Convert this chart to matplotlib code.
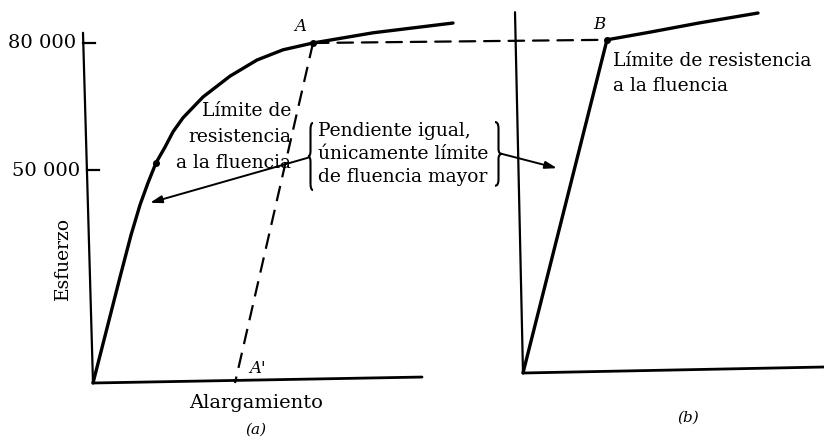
import matplotlib.pyplot as plt
from matplotlib.patches import ConnectionPatch, PathPatch
from matplotlib.path import Path

# curva (a): alargamiento (unidades arbitrarias) vs esfuerzo (psi), esquema
alarg_a = [0, 1.4, 2.7, 3.8, 4.7, 5.5, 6.3, 7.2, 8.0, 9.0, 11.0, 13.7, 16.4, 19.0, 22.0, 28.0, 36.0]
esf_a = [0, 12900, 24900, 34800, 41900, 47100, 51800, 55500, 59100, 62400, 67300, 72200, 76000, 78400,
         80000, 82400, 84700]
punto_A = (22.0, 80000)
punto_A_prima = (14.2, 0)
punto_fluencia_a = (6.3, 51800)

# curva (b)
alarg_b = [0, 8.4, 12.7, 17.7, 23.5]
esf_b = [0, 78400, 80200, 82400, 84700]
punto_B = (8.4, 78400)

# ejes dibujados a mano (el escaneo esta un poco inclinado)
eje_y_a = ([0, -1.0], [0, 82400])
eje_x_a = ([0, 32.9], [0, 1400])
eje_y_b = ([0, -0.8], [0, 84900])
eje_x_b = ([0, 30.1], [0, 1410])

yticks = [50000, 80000]
ytick_labels = ['50 000', '80 000']

W, H, DPI = 824, 442, 100
PX_E = 10.0          # px por unidad de alargamiento
PX_S = 0.00425       # px por psi

fig = plt.figure(figsize=(W / DPI, H / DPI), dpi=DPI)
fig.patch.set_facecolor('white')


def make_ax(ox, oy):
    ax = fig.add_axes([0, 0, 1, 1])
    ax.set_xlim(-ox / PX_E, (W - ox) / PX_E)
    ax.set_ylim(-(H - oy) / PX_S, oy / PX_S)
    ax.axis('off')
    ax.patch.set_alpha(0)
    return ax


def llave(ax, x_punta, x_brazo, y_arr, y_ab):
    # llave { o } hecha con curvas cuadraticas
    ym = (y_arr + y_ab) / 2
    h = y_arr - y_ab
    xm = (x_punta + x_brazo) / 2
    verts = [(x_brazo, y_arr), (xm, y_arr), (xm, y_arr - 0.1 * h),
             (xm, ym + 0.08 * h), (xm, ym), (x_punta, ym),
             (xm, ym), (xm, ym - 0.08 * h),
             (xm, y_ab + 0.1 * h), (xm, y_ab), (x_brazo, y_ab)]
    codes = [Path.MOVETO, Path.CURVE3, Path.CURVE3,
             Path.LINETO, Path.CURVE3, Path.CURVE3,
             Path.CURVE3, Path.CURVE3,
             Path.LINETO, Path.CURVE3, Path.CURVE3]
    ax.add_patch(PathPatch(Path(verts, codes), fill=False, lw=1.5, color='black'))


ax_a = make_ax(93, 383)
ax_b = make_ax(523, 373)

fuente = 'DejaVu Serif'
fs = 13.5
k = dict(color='black', solid_capstyle='round', solid_joinstyle='round')

# panel (a)
ax_a.plot(*eje_y_a, lw=1.6, **k)
ax_a.plot(*eje_x_a, lw=2.0, **k)
ax_a.plot(alarg_a, esf_a, lw=2.4, **k)
for t, lab in zip(yticks, ytick_labels):
    x0 = eje_y_a[0][1] * t / eje_y_a[1][1]
    ax_a.plot([x0, x0 + 1.2], [t, t], lw=1.6, color='black')
    ax_a.text(x0 - 0.7, t, lab, ha='right', va='center', fontsize=14, family=fuente)

ax_a.plot([punto_A[0], punto_A_prima[0]], [punto_A[1], punto_A_prima[1]],
          color='black', lw=1.6, dashes=(7, 4))
ax_a.plot(*punto_A, 'o', color='black', ms=4)
ax_a.plot(*punto_fluencia_a, 'o', color='black', ms=4)

ax_a.text(20.7, 83800, 'A', fontsize=12, style='italic', family=fuente, ha='center', va='center')
ax_a.text(16.5, 3500, "A'", fontsize=12, style='italic', family=fuente, ha='center', va='center')
ax_a.text(19.8, 57900, 'Límite de\nresistencia\na la fluencia', ha='right', va='center',
          multialignment='right', fontsize=fs, family=fuente, linespacing=1.55)
ax_a.text(-3.0, 29200, 'Esfuerzo', rotation=90, ha='center', va='center', fontsize=fs, family=fuente)
ax_a.text(16.3, -4700, 'Alargamiento', ha='center', va='center', fontsize=14, family=fuente)
ax_a.text(16.3, -11060, '(a)', ha='center', va='center', fontsize=11, style='italic', family=fuente)

# llaves y texto central
ax_a.text(22.5, 53800, 'Pendiente igual,\núnicamente límite\nde fluencia mayor', ha='left', va='center',
          fontsize=fs, family=fuente, linespacing=1.35)
llave(ax_a, 21.5, 22.0, 61200, 45400)
llave(ax_a, 40.9, 40.2, 61400, 46400)

flecha = dict(arrowstyle='-|>,head_length=0.7,head_width=0.22', color='black', lw=1.4,
              shrinkA=0, shrinkB=0)
ax_a.annotate('', xy=(5.7, 42400), xytext=(21.5, 53000), arrowprops=flecha)
ax_a.annotate('', xy=(3.4, 48200), xycoords=ax_b.transData,
              xytext=(40.9, 53900), textcoords=ax_a.transData, arrowprops=flecha)

# panel (b)
ax_b.plot(*eje_y_b, lw=1.6, **k)
ax_b.plot(*eje_x_b, lw=2.0, **k)
ax_b.plot(alarg_b, esf_b, lw=2.4, **k)
ax_b.plot(*punto_B, 'o', color='black', ms=4)
ax_b.text(7.6, 82100, 'B', fontsize=12, style='italic', family=fuente, ha='center', va='center')
ax_b.text(9.0, 70500, 'Límite de resistencia\na la fluencia', ha='left', va='center',
          fontsize=fs, family=fuente, linespacing=1.55)
ax_b.text(16.5, -10600, '(b)', ha='center', va='center', fontsize=11, style='italic', family=fuente)

# linea discontinua de A a B
con = ConnectionPatch(xyA=punto_A, coordsA=ax_a.transData, xyB=punto_B, coordsB=ax_b.transData,
                      color='black', lw=1.6, linestyle=(0, (7, 4)))
fig.add_artist(con)

fig.savefig('out.png', dpi=DPI, facecolor='white')
